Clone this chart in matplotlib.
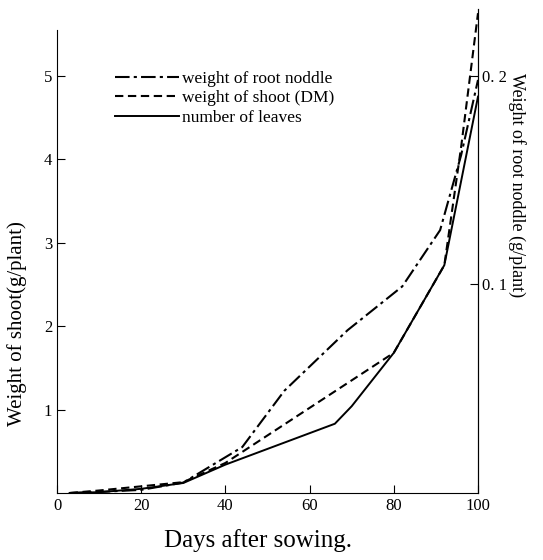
import matplotlib
matplotlib.use("Agg")
import matplotlib.pyplot as plt

# Data
days_leaves = [3, 10, 20, 30, 40, 66, 70, 80, 92, 100]
leaves = [0.0, 0.01, 0.05, 0.12, 0.34, 0.83, 1.04, 1.68, 2.73, 4.75]

days_shoot = [3, 10, 20, 30, 40, 80, 92, 96, 100]
shoot = [0.0, 0.03, 0.08, 0.13, 0.36, 1.68, 2.73, 4.15, 5.75]

days_nodule = [3, 10, 20, 30, 44, 54, 69, 82, 91, 96, 100]
nodule = [0.0, 0.0005, 0.0015, 0.005, 0.022, 0.049, 0.078, 0.099, 0.126, 0.162, 0.198]

x_ticks = [0, 20, 40, 60, 80, 100]
y_ticks = [1, 2, 3, 4, 5]
y2_ticks = [0.1, 0.2]
y2_labels = ["0. 1", "0. 2"]

plt.rcParams['font.family'] = ['Liberation Serif', 'DejaVu Serif']

fig = plt.figure(figsize=(5.43, 5.6), dpi=100)
ax = fig.add_axes([57/543, 1-493/560, (478-57)/543, (493-9)/560])
ymax = 5.8
ax.set_xlim(0, 100)
ax.set_ylim(0, ymax)
ax2 = ax.twinx()
ax2.set_ylim(0, ymax * 0.04)

l_nod, = ax2.plot(days_nodule, nodule, color='black', lw=1.5, linestyle=(0, (7, 2, 1.5, 2)))
l_sh, = ax.plot(days_shoot, shoot, color='black', lw=1.5, linestyle=(0, (4, 2.2)))
l_lv, = ax.plot(days_leaves, leaves, color='black', lw=1.4)

for a in (ax, ax2):
    a.spines['top'].set_visible(False)
ax.spines['left'].set_bounds(0, 5.55)
ax2.spines['left'].set_visible(False)
ax2.spines['bottom'].set_visible(False)

ax.set_xticks(x_ticks)
ax.set_yticks(y_ticks)
ax.tick_params(direction='in', length=6, labelsize=12)
ax2.set_yticks(y2_ticks)
ax2.set_yticklabels(y2_labels)
ax2.tick_params(direction='in', length=6, labelsize=12, pad=3)

ax.set_xlabel("Days after sowing.", fontsize=18)
ax.xaxis.set_label_coords(0.477, -0.075)
ax.set_ylabel("Weight of shoot(g/plant)", fontsize=15)
ax.yaxis.set_label_coords(-0.072, 0.35)
ax2.set_ylabel("Weight of root noddle (g/plant)", fontsize=13, rotation=-90)
ax2.yaxis.set_label_coords(1.115, 0.636)

ax2.legend([l_nod, l_sh, l_lv],
           ["weight of root noddle", "weight of shoot (DM)", "number of leaves"],
           loc='upper left', bbox_to_anchor=(0.138, 0.872), frameon=False,
           borderaxespad=0, borderpad=0,
           fontsize=12.5, handlelength=3.7, handletextpad=0.15, labelspacing=0.18)

fig.savefig("out.png", dpi=100)
